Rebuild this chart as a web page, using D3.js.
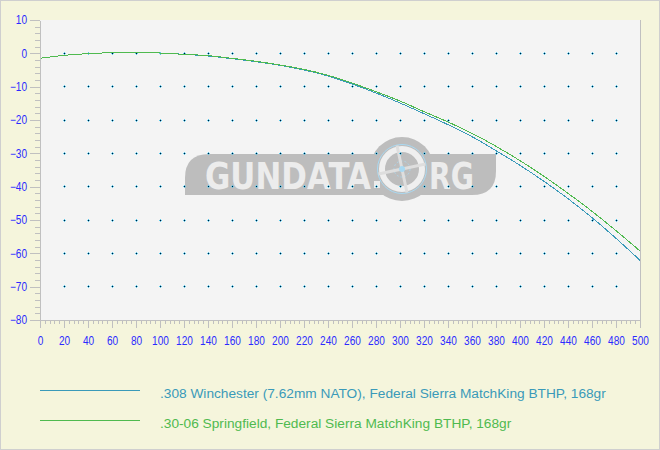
<!DOCTYPE html>
<html><head><meta charset="utf-8">
<script src="https://cdn.jsdelivr.net/npm/d3@7/dist/d3.min.js"></script>
<style>body{margin:0;background:#fff}svg{display:block}</style>
</head><body>
<svg id="chart" width="660" height="450"></svg>
<script>
// ---- data ----
const ranges = [0,20,40,60,80,100,120,140,160,180,200,220,240,260,280,300,320,340,360,380,400,420,440,460,480,500];
const win308 = [-1.5,-0.6,-0.1,0.2,0.3,0.1,-0.3,-0.8,-1.6,-2.5,-3.6,-5.0,-6.8,-9.2,-11.9,-14.9,-18.1,-21.4,-25.0,-29.2,-33.6,-38.4,-43.6,-49.3,-55.5,-62.1];
const spr3006 = [-1.5,-0.6,-0.1,0.2,0.3,0.1,-0.3,-0.7,-1.5,-2.4,-3.5,-4.8,-6.6,-8.9,-11.5,-14.3,-17.5,-20.6,-24.0,-27.9,-32.2,-36.9,-42.0,-47.4,-53.2,-59.3];
const seriesNames = [".308 Winchester (7.62mm NATO), Federal Sierra MatchKing BTHP, 168gr",
                     ".30-06 Springfield, Federal Sierra MatchKing BTHP, 168gr"];
const seriesColors = ["#3a9ab9", "#4fba4f"];
const xTickLabels = [0,20,40,60,80,100,120,140,160,180,200,220,240,260,280,300,320,340,360,380,400,420,440,460,480,500];
const yTickLabels = [10,0,-10,-20,-30,-40,-50,-60,-70,-80];
const watermarkText = ["GUNDATA", "RG"];

// ---- layout ----
const W = 660, H = 450;
const m = {left: 40, top: 20, right: 20, bottom: 130};
const svg = d3.select("#chart");
const x = d3.scaleLinear().domain([0, 500]).range([m.left, W - m.right]);
const y = d3.scaleLinear().domain([-80, 10]).range([H - m.bottom, m.top]);

svg.append("rect").attr("x",0.5).attr("y",0.5).attr("width",W-1).attr("height",H-1)
  .attr("fill","#f5f5dc").attr("stroke","#cfcfcf");
svg.append("rect").attr("x",x(0)).attr("y",y(10)).attr("width",x(500)-x(0)).attr("height",y(-80)-y(10))
  .attr("fill","#f4f4f4");

// ---- watermark ----
const wm = svg.append("g");
const L=185, T=154, R=496, B=195, r=24;
wm.append("path").attr("fill","#bdbdbd")
  .attr("d",`M${L},${B} L${L},${T+r} Q${L},${T} ${L+r},${T} L${R},${T} L${R},${B-r} Q${R},${B} ${R-r},${B} Z`);
const cx=402, cy=169;
wm.append("circle").attr("cx",cx).attr("cy",cy).attr("r",32).attr("fill","#bdbdbd");
wm.append("circle").attr("cx",cx).attr("cy",cy).attr("r",24.5).attr("fill","none").attr("stroke","#a9d9f2").attr("stroke-width",1);
wm.append("circle").attr("cx",cx).attr("cy",cy).attr("r",20).attr("fill","none").attr("stroke","#efefef").attr("stroke-width",6);
wm.append("circle").attr("cx",cx).attr("cy",cy).attr("r",8).attr("fill","none").attr("stroke","#a9d9f2").attr("stroke-width",0.8).attr("stroke-dasharray","2,2");
const cross = wm.append("g").attr("transform",`translate(${cx},${cy}) rotate(-12)`);
cross.append("line").attr("x1",-24).attr("x2",24).attr("y1",0).attr("y2",0).attr("stroke","#dedede").attr("stroke-width",3);
cross.append("line").attr("y1",-24).attr("y2",24).attr("x1",0).attr("x2",0).attr("stroke","#dedede").attr("stroke-width",3);
wm.append("circle").attr("cx",cx).attr("cy",cy).attr("r",3).attr("fill","#a9d9f2");
wm.append("text").attr("x",205).attr("y",189).attr("textLength",166).attr("lengthAdjust","spacingAndGlyphs")
  .attr("font-family","DejaVu Sans").attr("font-weight","bold").attr("font-size",37).attr("fill","#ececec")
  .text(watermarkText[0]);
wm.append("rect").attr("x",374).attr("y",181).attr("width",6).attr("height",7).attr("fill","#ececec");
wm.append("text").attr("x",429).attr("y",189).attr("textLength",45).attr("lengthAdjust","spacingAndGlyphs")
  .attr("font-family","DejaVu Sans").attr("font-weight","bold").attr("font-size",37).attr("fill","#ececec")
  .text(watermarkText[1]);

// ---- grid dots ----
const gx = xTickLabels.filter(v => v > 0 && v < 500);
const gy = yTickLabels.filter(v => v > -80 && v < 10);
const dots = svg.append("g").attr("shape-rendering","crispEdges");
gy.forEach(vy => gx.forEach(vx => {
  const px = Math.round(x(vx)), py = Math.floor(y(vy));
  dots.append("rect").attr("x",px-1).attr("y",py).attr("width",3).attr("height",1).attr("fill","#5cc8e8");
  dots.append("rect").attr("x",px).attr("y",py-1).attr("width",1).attr("height",3).attr("fill","#5cc8e8");
  dots.append("rect").attr("x",px).attr("y",py).attr("width",1).attr("height",1).attr("fill","#001030");
}));

// ---- lines ----
const line = d3.line().x((d,i) => x(ranges[i])).y(d => y(d)).curve(d3.curveMonotoneX);
[win308, spr3006].forEach((s, i) => {
  svg.append("path").datum(s).attr("d", line).attr("fill","none")
    .attr("stroke", seriesColors[i]).attr("stroke-width",1).attr("shape-rendering","crispEdges");
});

// ---- axes ----
const axisColor = "#c0c0c0", labelColor = "#2b2bff";
const fontFam = "'Liberation Sans',Arial,sans-serif";
function style(g){
  g.selectAll("path,line").attr("stroke", axisColor).attr("shape-rendering","crispEdges");
  g.selectAll("text").attr("fill", labelColor).attr("font-family", fontFam).attr("font-size", 12)
    .each(function(){
      const len = this.getComputedTextLength();
      if (len > 0) d3.select(this).attr("textLength", len * 0.84).attr("lengthAdjust","spacingAndGlyphs");
    });
}
// y minor
svg.append("g").attr("transform",`translate(${m.left},0)`)
  .call(d3.axisLeft(y).tickValues(d3.range(-80,11,2)).tickSize(5).tickFormat("").tickSizeOuter(0))
  .call(style);
svg.append("g").attr("transform",`translate(${m.left},0)`)
  .call(d3.axisLeft(y).tickValues(yTickLabels).tickSize(10).tickPadding(3).tickSizeOuter(0))
  .call(style);
// x minor
svg.append("g").attr("transform",`translate(0,${y(-80)})`)
  .call(d3.axisBottom(x).tickValues(d3.range(0,501,4)).tickSize(4).tickFormat("").tickSizeOuter(0))
  .call(style);
svg.append("g").attr("transform",`translate(0,${y(-80)})`)
  .call(d3.axisBottom(x).tickValues(xTickLabels).tickSize(8).tickPadding(8).tickSizeOuter(0))
  .call(style);
// right border of plot
svg.append("line").attr("x1",x(500)).attr("x2",x(500)).attr("y1",y(10)).attr("y2",y(-80))
  .attr("stroke",axisColor).attr("shape-rendering","crispEdges");

// ---- legend ----
const legY = [390, 420];
seriesNames.forEach((name, i) => {
  svg.append("line").attr("x1",40).attr("x2",140).attr("y1",legY[i]).attr("y2",legY[i])
    .attr("stroke",seriesColors[i]).attr("shape-rendering","crispEdges");
  svg.append("text").attr("x",160).attr("y",legY[i]+3).attr("dy","0.35em")
    .attr("font-family","'Liberation Sans',Arial,sans-serif").attr("font-size",13.7)
    .attr("fill",seriesColors[i]).text(name);
});
</script>
</body></html>
